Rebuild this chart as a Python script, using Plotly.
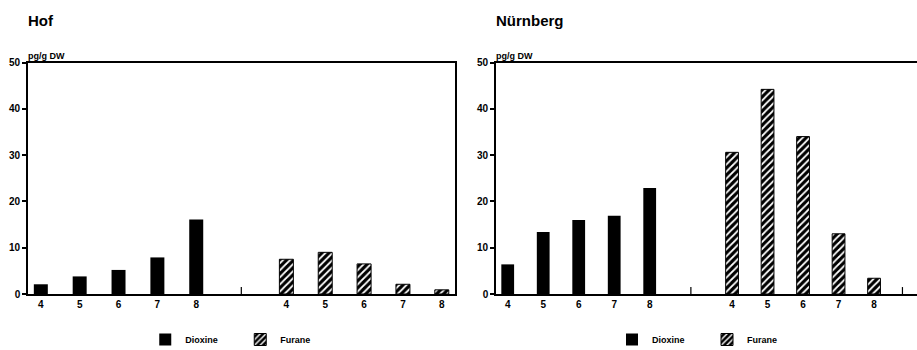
import plotly.graph_objects as go

# ---- data ----
congeners = ["4", "5", "6", "7", "8"]
hof_dioxine = [2.1, 3.8, 5.2, 7.9, 16.1]
hof_furane = [7.5, 9.0, 6.5, 2.1, 0.9]
nbg_dioxine = [6.4, 13.4, 16.0, 16.9, 22.9]
nbg_furane = [30.6, 44.2, 34.0, 13.0, 3.4]
panel_titles = ["Hof", "Nürnberg"]
y_unit = "pg/g DW"
y_ticks = [0, 10, 20, 30, 40, 50]

GAP = 2.32  # spacing between the two groups (in bar slots)
idx = list(range(len(congeners)))
x_diox = [i for i in idx]
x_fur = [i + 4 + GAP for i in idx]

FONT = "Liberation Sans"
fig = go.Figure()

hatch = dict(shape="/", fgcolor="white", bgcolor="black", size=5, solidity=0.35, fillmode="replace")

panels = [
    (hof_dioxine, hof_furane, "x", "y", "legend"),
    (nbg_dioxine, nbg_furane, "x2", "y2", "legend2"),
]
for k, (d, f, xa, ya, lg) in enumerate(panels):
    fig.add_trace(go.Bar(x=x_diox, y=d, xaxis=xa, yaxis=ya, name="Dioxine",
                         marker=dict(color="black", line=dict(width=0)),
                         width=0.36, legend=lg, showlegend=True))
    fig.add_trace(go.Bar(x=x_fur, y=f, xaxis=xa, yaxis=ya, name="Furane",
                         marker=dict(color="black", pattern=hatch, line=dict(width=1, color="black")),
                         width=0.36, legend=lg, showlegend=True))

tickfont = dict(family=FONT, size=10, color="black", weight="bold")
common_x = dict(tickvals=x_diox + x_fur, ticktext=congeners + congeners, ticks="",
                showgrid=False, zeroline=False, showline=True, linecolor="black",
                linewidth=1.6, tickfont=tickfont, fixedrange=True, automargin=False)
common_y = dict(range=[0, 50], tickvals=y_ticks, ticks="outside", ticklen=4, tickwidth=1.5,
                tickcolor="black", showgrid=False, zeroline=False, showline=True,
                linecolor="black", linewidth=1.6, tickfont=tickfont, automargin=False)

legend_font = dict(family=FONT, size=9, color="black", weight="bold")
fig.update_layout(
    width=917, height=350,
    margin=dict(l=0, r=0, t=0, b=0, autoexpand=False),
    paper_bgcolor="white", plot_bgcolor="white",
    barmode="overlay",
    xaxis=dict(domain=[28/917, 455/917], range=[-0.33, 4 + GAP + 4 + 0.34], anchor="y", mirror=True, **common_x),
    yaxis=dict(domain=[0.16, 0.8214], anchor="x", mirror=True, **common_y),
    xaxis2=dict(domain=[496/917, 1.0], range=[-0.33, 11.53], anchor="y2", mirror=True, **common_x),
    yaxis2=dict(domain=[0.16, 0.8214], anchor="x2", mirror=False, **common_y),
    legend=dict(orientation="h", x=0.262, xanchor="center", y=0.03, yanchor="middle",
                font=legend_font, itemwidth=30, entrywidth=50, bgcolor="rgba(0,0,0,0)"),
    legend2=dict(orientation="h", x=0.771, xanchor="center", y=0.03, yanchor="middle",
                 font=legend_font, itemwidth=30, entrywidth=50, bgcolor="rgba(0,0,0,0)"),
)

# panel titles and unit labels
for k, (xa, xpix) in enumerate([("x", 28), ("x2", 496)]):
    fig.add_annotation(text=panel_titles[k], xref="paper", yref="paper",
                       x=(xpix - 2) / 917, y=(350 - 20) / 350, xanchor="left", yanchor="middle",
                       showarrow=False, font=dict(family=FONT, size=15, color="black", weight="bold"))
    fig.add_annotation(text=y_unit, xref="paper", yref="paper",
                       x=(xpix - 2) / 917, y=(350 - 56) / 350, xanchor="left", yanchor="middle",
                       showarrow=False, font=dict(family=FONT, size=9, color="black", weight="bold"))

# small separator ticks on the x axis between groups
sep = 4 + GAP / 2
for xa, ya, xs in [("x", "y", [sep]), ("x2", "y2", [sep, 4 + GAP + 4 + 0.8])]:
    for xv in xs:
        fig.add_shape(type="line", xref=xa, yref=ya, x0=xv, x1=xv, y0=0, y1=1.5,
                      line=dict(color="black", width=1.2))

fig.write_html("out.html", config={"displayModeBar": False},
               post_script="document.body.style.margin='0';document.body.style.overflow='hidden';")
